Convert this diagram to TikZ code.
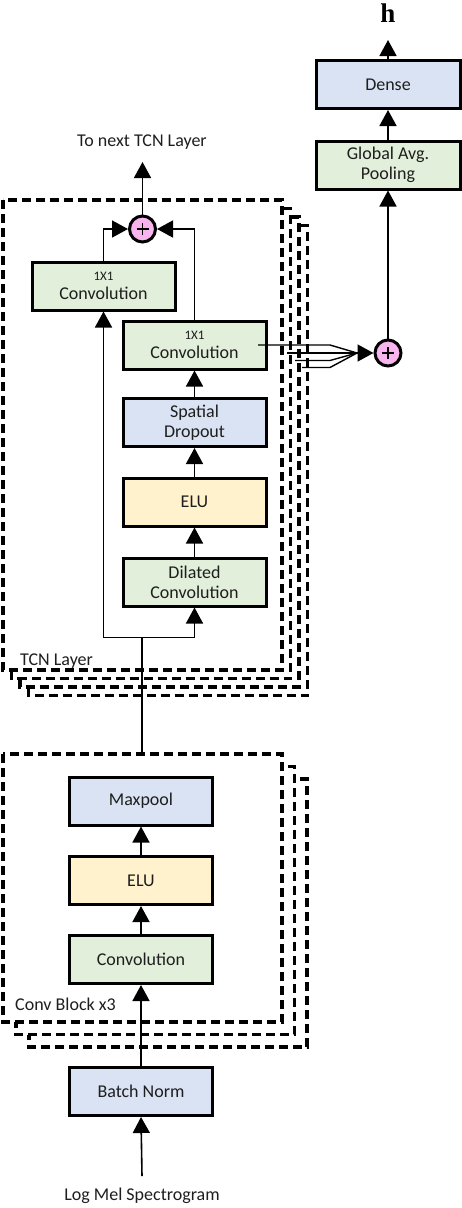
\documentclass[tikz,border=0pt]{standalone}
\usepackage{fontspec}
\setmainfont{Carlito}
\newfontfamily\hfont{Liberation Serif}
\usetikzlibrary{arrows.meta}
\definecolor{gfill}{RGB}{226,239,218}
\definecolor{bfill}{RGB}{218,227,243}
\definecolor{yfill}{RGB}{255,242,204}
\definecolor{pfill}{RGB}{248,180,236}
\definecolor{tgray}{RGB}{30,30,30}
\tikzset{
  layerbox/.style={draw, line width=3.2pt, dash pattern=on 9pt off 5pt, fill=white},
  blk/.style={draw, line width=3pt, minimum width=143pt, minimum height=48pt, inner sep=0pt, align=center, text=tgray, font=\fontsize{18}{20}\selectfont},
  gblk/.style={blk, fill=gfill},
  bblk/.style={blk, fill=bfill},
  yblk/.style={blk, fill=yfill},
  plusnode/.style={circle, draw, line width=3pt, fill=pfill, minimum size=26pt, inner sep=0pt},
  conn/.style={line width=1.6pt},
  arr/.style={conn, -{Triangle[length=16pt,width=17pt]}},
  lbl/.style={text=tgray, font=\fontsize{18}{20}\selectfont, inner sep=0pt},
}
\newcommand{\plussign}{\tikz[baseline=-0.5ex]{\draw[line width=1.8pt] (-6pt,0)--(6pt,0) (0,-6pt)--(0,6pt);}}
\begin{document}
\begin{tikzpicture}[x=1pt,y=-1pt]
\useasboundingbox (0,0) rectangle (462,1208);
% TCN layer stack
\draw[layerbox] (28.5,225.5) rectangle (307.5,695.5);
\draw[layerbox] (20,217) rectangle (299,687);
\draw[layerbox] (11.5,208.5) rectangle (290.5,678.5);
\draw[layerbox] (3,200) rectangle (282,670);
% Conv block stack
\draw[layerbox] (29,779) rectangle (307,1047);
\draw[layerbox] (16,766.5) rectangle (294.5,1034.5);
\draw[layerbox] (3,754) rectangle (282,1022);

\node[lbl, anchor=west] (tcnlbl) at (20,661) {TCN Layer};
\node[lbl, anchor=west] (cblbl) at (15,1004) {Conv Block x3};

% TCN boxes
\node[gblk] (cb1) at (103.5,286) {{\fontsize{13}{13}\selectfont 1X1}\\[-1pt]Convolution};
\node[gblk] (cb2) at (194.5,345) {{\fontsize{13}{13}\selectfont 1X1}\\[-1pt]Convolution};
\node[bblk] (drop) at (194.5,422.5) {Spatial\\Dropout};
\node[yblk] (elu1) at (194.5,502) {ELU};
\node[gblk] (dil) at (194.5,582) {Dilated\\Convolution};
\node[plusnode] (plus1) at (142.5,229) {\plussign};

% Conv block boxes
\node[bblk] (maxp) at (141,801) {Maxpool};
\node[yblk] (elu2) at (141,880.5) {ELU};
\node[gblk] (convb) at (141,959.5) {Convolution};
\node[bblk] (bn) at (141,1091.5) {Batch Norm};

% Right column
\node[bblk, minimum width=144pt] (dense) at (388,84.5) {Dense};
\node[gblk, minimum width=144pt] (gap) at (388,165) {Global Avg.\\Pooling};
\node[plusnode] (plus2) at (388,353) {\plussign};
\node[inner sep=0pt, font=\hfont\bfseries\fontsize{27}{30}\selectfont] (h) at (388,13) {h};

\node[lbl] (tonext) at (142,142) {To next TCN Layer};
\node[lbl] (logmel) at (142,1196) {Log Mel Spectrogram};

% coordinates
\coordinate (inp) at (142,1176);
\coordinate (cbtop) at (142,753);
\coordinate (split) at (142,637.5);
\coordinate (nexttop) at (142.5,162);
\coordinate (htop) at (388,40);
\coordinate (o1) at (258,345);
\coordinate (o2) at (287,353);
\coordinate (o3) at (295,360.5);
\coordinate (o4) at (302,367.5);
\coordinate (meet) at (357,353);

% connectors
\draw[arr] (inp) -- (bn.south);
\draw[arr] (bn.north) -- (convb.south);
\draw[arr] (convb.north) -- (elu2.south);
\draw[arr] (elu2.north) -- (maxp.south);
\draw[conn] (cbtop) -- (split);
\draw[arr] (split) -| (cb1.south);
\draw[arr] (split) -| (dil.south);
\draw[arr] (dil.north) -- (elu1.south);
\draw[arr] (elu1.north) -- (drop.south);
\draw[arr] (drop.north) -- (cb2.south);
\draw[arr] (cb1.north) |- (plus1.west);
\draw[arr] (cb2.north) |- (plus1.east);
\draw[arr] (plus1.north) -- (nexttop);

\draw[conn, line width=1.4pt] (o1) -- (330,345) -- (meet);
\draw[conn, line width=1.4pt] (o2) -- (330,353) -- (meet);
\draw[conn, line width=1.4pt] (o3) -- (330,360.5) -- (meet);
\draw[conn, line width=1.4pt] (o4) -- (330,367.5) -- (meet);
\draw[arr] (meet) -- (plus2.west);
\draw[arr] (plus2.north) -- (gap.south);
\draw[arr] (gap.north) -- (dense.south);
\draw[arr] (dense.north) -- (htop);
\end{tikzpicture}
\end{document}
